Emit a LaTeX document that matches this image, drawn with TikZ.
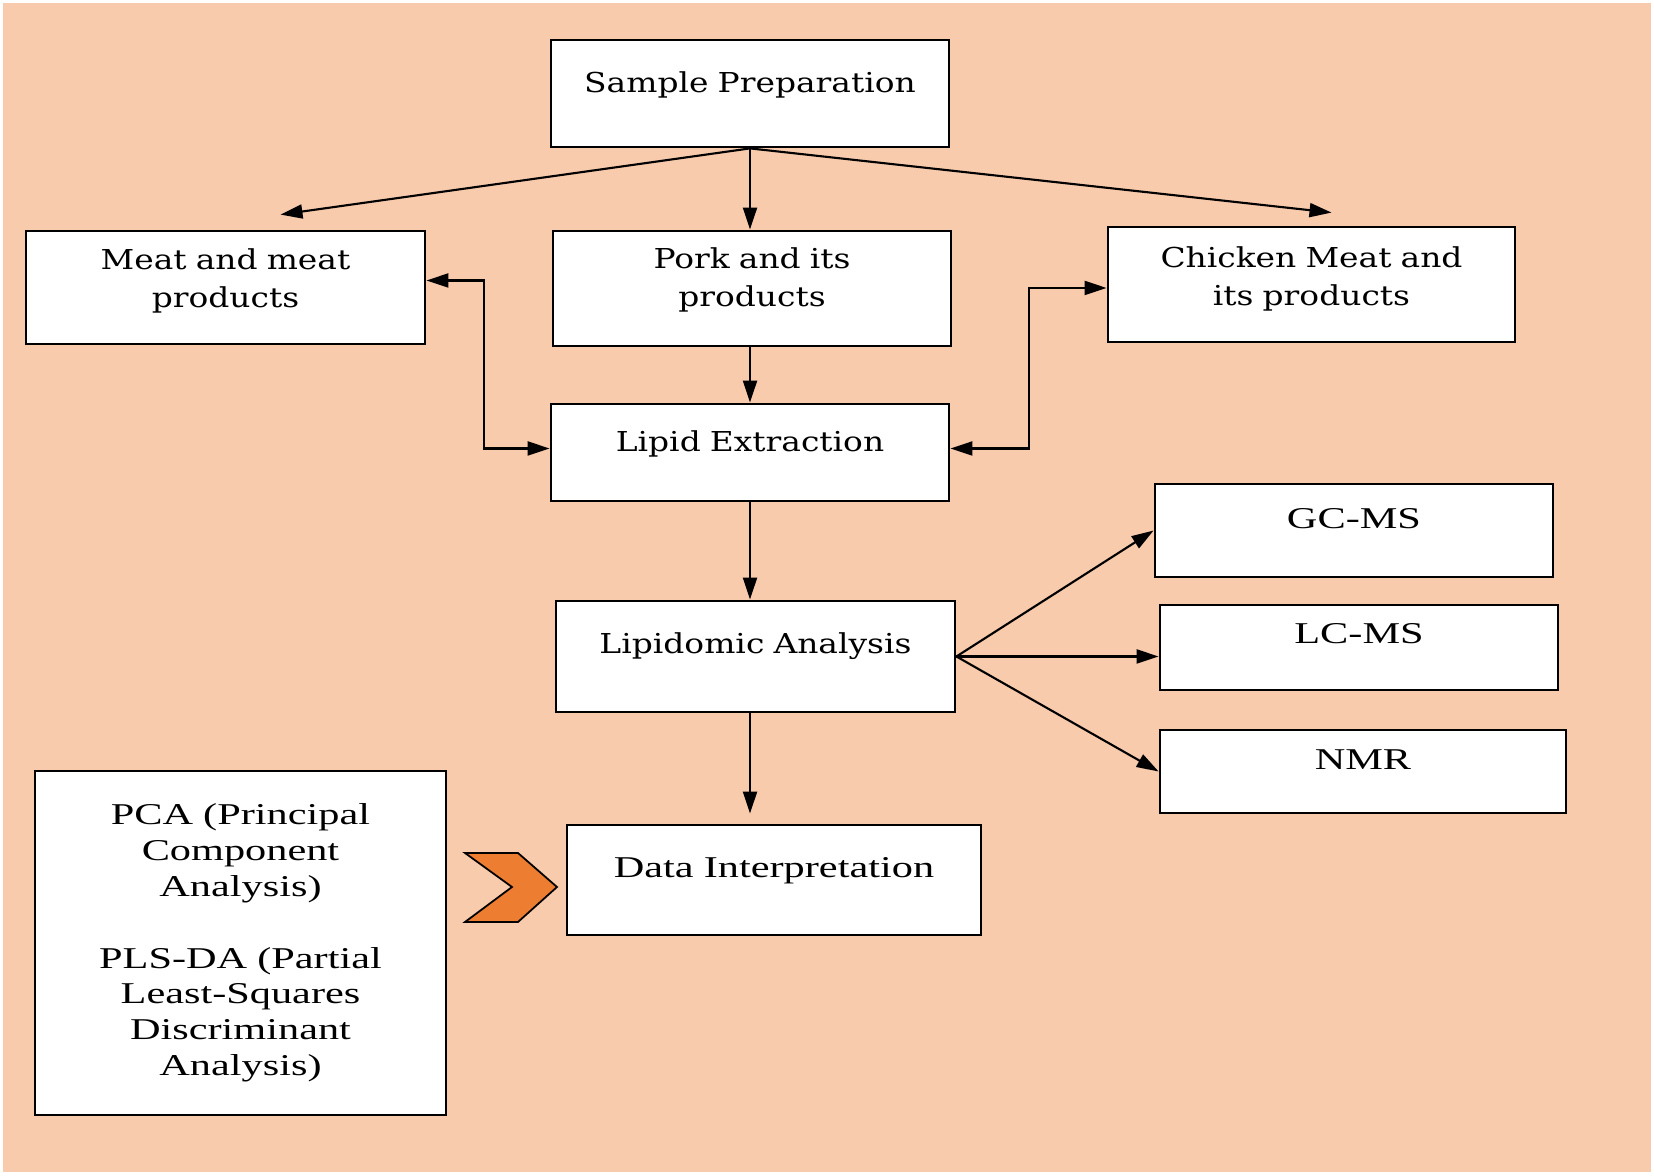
\documentclass[tikz,border=0pt]{standalone}
\usepackage{fontspec}
\newfontfamily\bookfont[FakeStretch=1.2]{DejaVu Serif}
\newfontfamily\timesfont[FakeStretch=1.4]{Liberation Serif}
\usetikzlibrary{arrows.meta}
\definecolor{peach}{HTML}{F8CBAD}
\definecolor{chevron}{HTML}{ED7D31}

\begin{document}
\begin{tikzpicture}
\tikzstyle{box}=[rectangle,draw,fill=white,line width=0.8pt,align=center,inner sep=2pt,text width=3.7cm,font=\bookfont\fontsize{7.8}{10.8}\selectfont]
\tikzstyle{tbox}=[box,font=\timesfont\fontsize{8.6}{10.2}\selectfont]
\tikzstyle{arr}=[-{Triangle[length=2.2mm,width=1.4mm]},line width=0.6pt]
\tikzstyle{dbl}=[{Triangle[length=2.2mm,width=1.4mm]}-{Triangle[length=2.2mm,width=1.4mm]},line width=0.6pt]
\useasboundingbox (0,0) rectangle (16.54,-11.76);
\fill[white] (0,0) rectangle (16.54,-11.76);
\fill[peach] (0.03,-0.03) rectangle (16.51,-11.72);

\node[box,minimum width=3.98cm,minimum height=1.07cm,text depth=2.3mm] (sp) at (7.50,-0.935) {Sample Preparation};
\node[box,minimum width=3.99cm,minimum height=1.13cm,text depth=5.7mm] (meat) at (2.255,-2.875) {Meat and meat\\products};
\node[box,minimum width=3.98cm,minimum height=1.15cm,text depth=6.0mm] (pork) at (7.52,-2.885) {Pork and its\\products};
\node[box,minimum width=4.07cm,minimum height=1.15cm,text depth=5.5mm] (chk) at (13.115,-2.845) {Chicken Meat and\\its products};
\node[box,minimum width=3.98cm,minimum height=0.97cm,text depth=2.2mm] (lip) at (7.50,-4.525) {Lipid Extraction};
\node[box,minimum width=3.99cm,minimum height=1.11cm,text depth=2.7mm] (lpa) at (7.555,-6.565) {Lipidomic Analysis};
\node[tbox,minimum width=3.98cm,minimum height=0.93cm,text depth=2.4mm] (gc) at (13.54,-5.305) {GC-MS};
\node[tbox,minimum width=3.98cm,minimum height=0.85cm,text depth=2.8mm] (lc) at (13.59,-6.475) {LC-MS};
\node[tbox,minimum width=4.06cm,minimum height=0.83cm,text depth=2.4mm] (nmr) at (13.63,-7.715) {NMR};
\node[tbox,minimum width=4.14cm,minimum height=1.10cm,text depth=2.6mm] (data) at (7.74,-8.80) {Data Interpretation};
\node[tbox,minimum width=4.11cm,minimum height=3.44cm,text width=3.9cm] (pca) at (2.405,-9.43) {PCA (Principal\\Component\\Analysis)\\[10.2pt]PLS-DA (Partial\\Least-Squares\\Discriminant\\Analysis)};

\draw[arr] (sp.south) -- ([xshift=0.55cm,yshift=0.15cm]meat.north);
\draw[arr] (sp.south) -- (sp.south |- pork.north);
\draw[arr] (sp.south) -- ([xshift=0.2cm,yshift=0.13cm]chk.north);
\draw[arr] (sp.south |- pork.south) -- (sp.south |- lip.north);
\draw[dbl] ([yshift=0.07cm]meat.east) -- ++(0.58,0) |- ([yshift=0.04cm]lip.west);
\draw[dbl] ([yshift=-0.035cm]chk.west) -- ++(-0.78,0) |- ([yshift=0.04cm]lip.east);
\draw[arr] (lip.south) -- (lip.south |- lpa.north);
\draw[arr] (lpa.east) -- (gc.west);
\draw[arr] (lpa.east) -- (lpa.east -| lc.west);
\draw[arr] (lpa.east) -- (nmr.west);
\draw[arr,shorten >=1mm] (lip.south |- lpa.south) -- (lip.south |- data.north);
\filldraw[fill=chevron,draw=black,line width=0.5pt] (4.65,-8.53) -- (5.18,-8.53) -- (5.57,-8.87) -- (5.18,-9.22) -- (4.65,-9.22) -- (5.12,-8.87) -- cycle;
\end{tikzpicture}
\end{document}
